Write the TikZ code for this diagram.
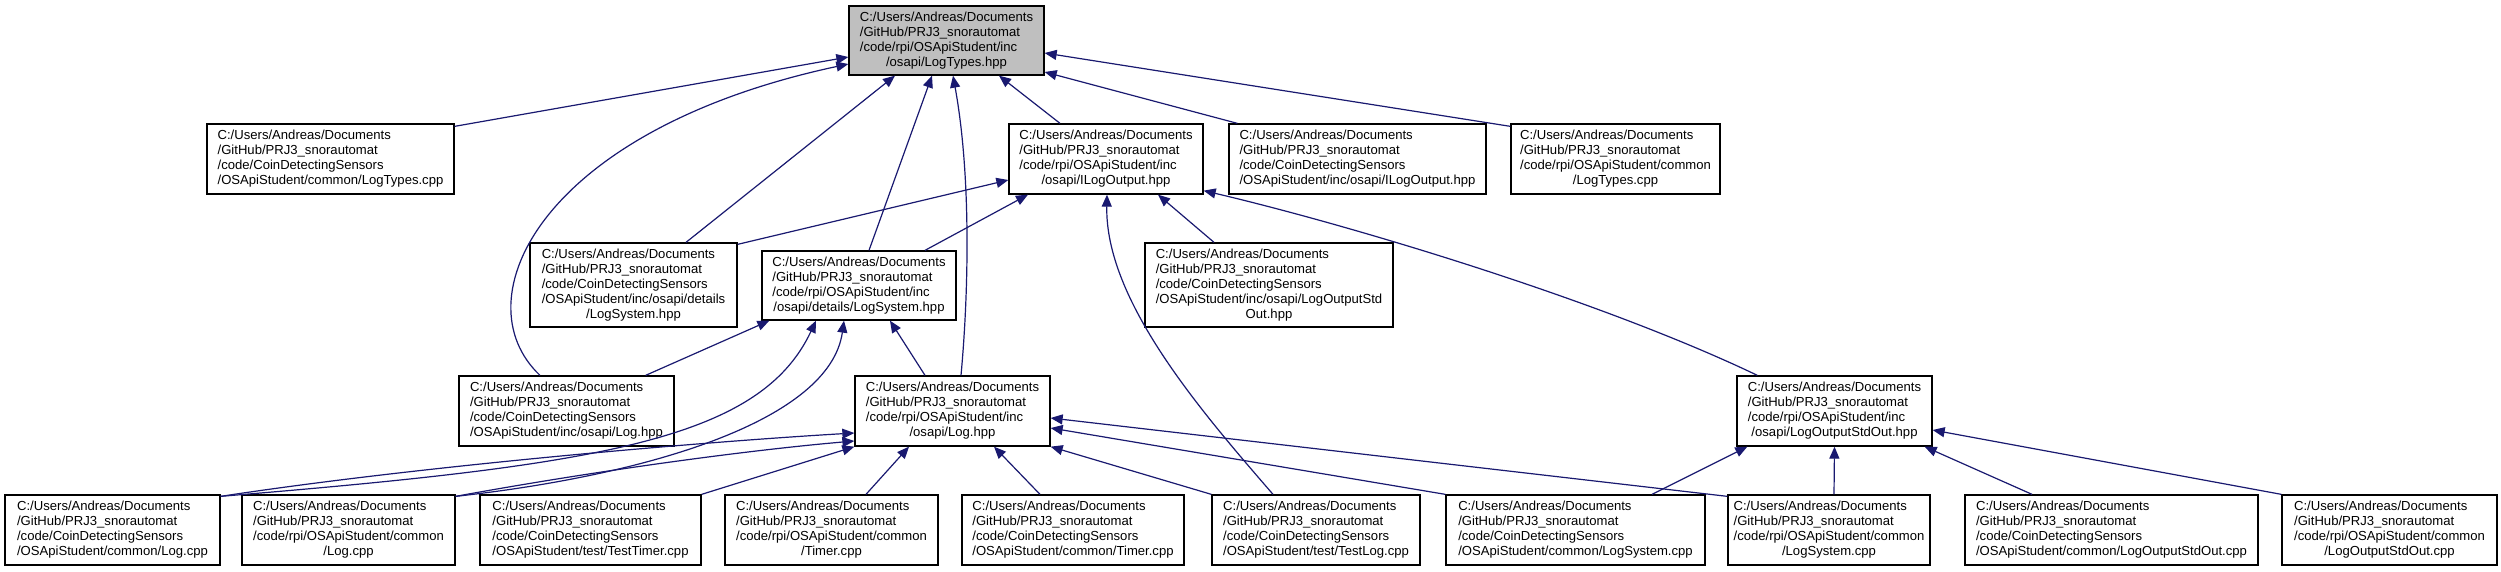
\documentclass[tikz,border=0pt]{standalone}
\usepackage{fontspec}
\setmainfont{Liberation Sans}
\usetikzlibrary{arrows.meta}
\definecolor{edgec}{HTML}{191970}
\definecolor{topfill}{HTML}{BFBFBF}
\newcommand\lbl[2]{\begin{tabular}{@{}l@{}}#1\\\multicolumn{1}{@{}c@{}}{#2}\end{tabular}}
\newcommand\pre{C:/Users/Andreas/Documents\\/GitHub/PRJ3\_snorautomat}
\newcommand\cdsp{/code/CoinDetectingSensors}
\newcommand\rpiinc{/code/rpi/OSApiStudent/inc}
\newcommand\rpicom{/code/rpi/OSApiStudent/common}
\tikzset{
  filebox/.style={draw=black, line width=1.3pt, fill=white, inner sep=0pt,
    font=\fontsize{13.1}{15}\selectfont, minimum height=70pt},
  edge/.style={draw=edgec, line width=1.2pt, -{Triangle[length=12pt,width=10pt]}}
}
\begin{document}
\begin{tikzpicture}[x=1pt,y=-1pt]
\useasboundingbox[fill=white] (0,0) rectangle (2501,571);
% top
\node[filebox, fill=topfill, minimum width=195pt, minimum height=69pt] (top) at (946.5,40.5) {\lbl{\pre\\\rpiinc}{/osapi/LogTypes.hpp}};
% row 2
\node[filebox, minimum width=247pt] (n1) at (330.5,159) {\lbl{\pre\\\cdsp}{/OSApiStudent/common/LogTypes.cpp}};
\node[filebox, minimum width=194pt] (n2) at (1106,159) {\lbl{\pre\\\rpiinc}{/osapi/ILogOutput.hpp}};
\node[filebox, minimum width=257pt] (n3) at (1357.5,159) {\lbl{\pre\\\cdsp}{/OSApiStudent/inc/osapi/ILogOutput.hpp}};
\node[filebox, minimum width=209pt] (n4) at (1615.5,159) {\lbl{\pre\\\rpicom}{/LogTypes.cpp}};
% row 3
\node[filebox, minimum width=207pt, minimum height=84pt] (n5) at (633.5,285) {\lbl{\pre\\\cdsp\\/OSApiStudent/inc/osapi/details}{/LogSystem.hpp}};
\node[filebox, minimum width=194pt, minimum height=69pt] (n6) at (859,285.5) {\lbl{\pre\\\rpiinc}{/osapi/details/LogSystem.hpp}};
\node[filebox, minimum width=248pt, minimum height=84pt] (n7) at (1269,285) {\lbl{\pre\\\cdsp\\/OSApiStudent/inc/osapi/LogOutputStd}{Out.hpp}};
% row 4
\node[filebox, minimum width=215pt] (n8) at (566.5,411) {\lbl{\pre\\\cdsp}{/OSApiStudent/inc/osapi/Log.hpp}};
\node[filebox, minimum width=195pt] (n9) at (952.5,411) {\lbl{\pre\\\rpiinc}{/osapi/Log.hpp}};
\node[filebox, minimum width=195pt] (n10) at (1834.5,411) {\lbl{\pre\\\rpiinc}{/osapi/LogOutputStdOut.hpp}};
% row 5
\node[filebox, minimum width=215pt] (b1) at (112.5,530) {\lbl{\pre\\\cdsp}{/OSApiStudent/common/Log.cpp}};
\node[filebox, minimum width=213pt] (b2) at (348.5,530) {\lbl{\pre\\\rpicom}{/Log.cpp}};
\node[filebox, minimum width=221pt] (b3) at (590.5,530) {\lbl{\pre\\\cdsp}{/OSApiStudent/test/TestTimer.cpp}};
\node[filebox, minimum width=213pt] (b4) at (831.5,530) {\lbl{\pre\\\rpicom}{/Timer.cpp}};
\node[filebox, minimum width=222pt] (b5) at (1073,530) {\lbl{\pre\\\cdsp}{/OSApiStudent/common/Timer.cpp}};
\node[filebox, minimum width=208pt] (b6) at (1316,530) {\lbl{\pre\\\cdsp}{/OSApiStudent/test/TestLog.cpp}};
\node[filebox, minimum width=259pt] (b7) at (1575.5,530) {\lbl{\pre\\\cdsp}{/OSApiStudent/common/LogSystem.cpp}};
\node[filebox, minimum width=202pt] (b8) at (1829,530) {\lbl{\pre\\\rpicom}{/LogSystem.cpp}};
\node[filebox, minimum width=293pt] (b9) at (2111.5,530) {\lbl{\pre\\\cdsp}{/OSApiStudent/common/LogOutputStdOut.cpp}};
\node[filebox, minimum width=215pt] (b10) at (2389.5,530) {\lbl{\pre\\\rpicom}{/LogOutputStdOut.cpp}};
% edges into top
\draw[edge] ([yshift=-3pt]n1.north east) -- ([yshift=-16.5pt]top.west);
\draw[edge] ([xshift=-26.5pt]n8.north) .. controls (460,300) and (540,130) .. ([yshift=-23.5pt]top.west);
\draw[edge] ([xshift=52.5pt]n5.north) -- ([xshift=-51.5pt]top.south);
\draw[edge] ([xshift=10pt]n6.north) -- ([xshift=-14.5pt]top.south);
\draw[edge] ([xshift=8.5pt]n9.north) .. controls (968,300) and (972,180) .. ([xshift=6.5pt]top.south);
\draw[edge] ([xshift=-46pt]n2.north) -- ([xshift=52.5pt]top.south);
\draw[edge] ([xshift=9pt]n3.north west) -- ([yshift=-31.5pt]top.east);
\draw[edge] ([yshift=-3pt]n4.north west) -- ([yshift=-12.5pt]top.east);
% edges into n2
\draw[edge] ([yshift=-2pt]n5.north east) -- ([yshift=-21pt]n2.west);
\draw[edge] ([xshift=66pt]n6.north) -- ([xshift=-78pt]n2.south);
\draw[edge] ([xshift=-43pt]b6.north) .. controls (1200,410) and (1105,300) .. ([xshift=1pt]n2.south);
\draw[edge] ([xshift=-55pt]n7.north) -- ([xshift=52pt]n2.south);
\draw[edge] ([xshift=21pt]n10.north west) .. controls (1600,300) and (1350,225) .. ([yshift=4pt]n2.south east);
% edges into n6
\draw[edge] ([xshift=-29pt]n8.north east) -- ([xshift=8pt]n6.south west);
\draw[edge] ([yshift=-2pt]b1.north east) .. controls (600,465) and (760,440) .. ([xshift=-43pt]n6.south);
\draw[edge] ([yshift=-2pt]b2.north east) .. controls (650,475) and (830,420) .. ([xshift=-15pt]n6.south);
\draw[edge] ([xshift=-27.5pt]n9.north) -- ([xshift=31pt]n6.south);
% edges into n9
\draw[edge] ([yshift=-2pt]b1.north east) .. controls (420,466) and (700,442) .. ([yshift=-22pt]n9.west);
\draw[edge] ([yshift=-2pt]b2.north east) .. controls (600,470) and (750,450) .. ([yshift=-30pt]n9.west);
\draw[edge] (b3.north east) -- (n9.south west);
\draw[edge] ([xshift=34.5pt]b4.north) -- ([xshift=-43.5pt]n9.south);
\draw[edge] ([xshift=-33pt]b5.north) -- ([xshift=41.5pt]n9.south);
\draw[edge] (b6.north west) -- (n9.south east);
\draw[edge] (b7.north west) -- ([yshift=-17pt]n9.east);
\draw[edge] ([yshift=-2pt]b8.north west) -- ([yshift=-7pt]n9.east);
% edges into n10
\draw[edge] ([xshift=76.5pt]b7.north) -- ([xshift=11pt]n10.south west);
\draw[edge] ([xshift=5pt]b8.north) -- (n10.south);
\draw[edge] ([xshift=-79.5pt]b9.north) -- ([xshift=-8pt]n10.south east);
\draw[edge] (b10.north west) -- ([yshift=-19pt]n10.east);
\end{tikzpicture}
\end{document}
